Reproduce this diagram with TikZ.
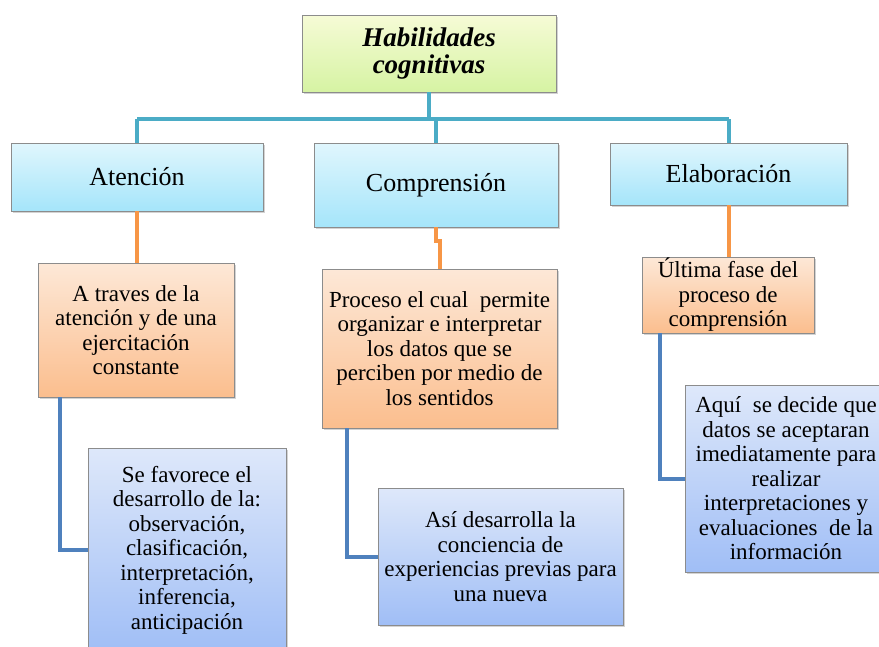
\documentclass[tikz,border=0pt]{standalone}
\usepackage{fontspec}
\setmainfont{Liberation Serif}
\usetikzlibrary{shadows}

\definecolor{tealline}{HTML}{4BACC6}
\definecolor{orangeline}{HTML}{F79646}
\definecolor{blueline}{HTML}{4F81BD}

\tikzset{
	box/.style={draw=black!45, line width=0.8pt, inner sep=0pt, align=center,
		drop shadow={shadow xshift=1.5pt, shadow yshift=-2pt, opacity=0.35}},
	rootbox/.style={box, top color={rgb,255:red,246;green,251;blue,214}, bottom color={rgb,255:red,214;green,243;blue,163},
		font=\fontsize{27}{27}\selectfont\bfseries\itshape},
	headbox/.style={box, top color={rgb,255:red,224;green,246;blue,253}, bottom color={rgb,255:red,165;green,229;blue,250},
		font=\fontsize{26}{28}\selectfont},
	notebox/.style={box, top color={rgb,255:red,253;green,232;blue,215}, bottom color={rgb,255:red,251;green,190;blue,142},
		font=\fontsize{23}{24.5}\selectfont},
	detailbox/.style={box, top color={rgb,255:red,222;green,232;blue,250}, bottom color={rgb,255:red,160;green,190;blue,246},
		font=\fontsize{23}{24.5}\selectfont},
	link/.style={line width=4pt},
	elbow/.style={to path={|- (\tikztotarget)}}
}

\begin{document}
\begin{tikzpicture}[x=1pt, y=-1pt]
	\useasboundingbox (0,0) rectangle (879,646);

	\node[rootbox, minimum width=254, minimum height=77] (root) at (429,53.5) {Habilidades\\cognitivas};

	\node[headbox, minimum width=252, minimum height=68] (aten) at (137,177)   {Atención};
	\node[headbox, minimum width=244, minimum height=84] (comp) at (436,185)   {Comprensión};
	\node[headbox, minimum width=237, minimum height=62] (elab) at (728.5,174) {Elaboración};

	\node[notebox, minimum width=196, minimum height=134] (ora1) at (136,330)   {A traves de la\\atención y de una\\ejercitación\\constante};
	\node[notebox, minimum width=235, minimum height=159] (ora2) at (439.5,348.5) {Proceso el cual~ permite\\organizar e interpretar\\los datos que se\\perciben por medio de\\los sentidos};
	\node[notebox, minimum width=172, minimum height=76] (ora3) at (728,295)  {Última fase del\\proceso de\\comprensión};

	\node[detailbox, minimum width=198, minimum height=204] (blu1) at (187,550)   {Se favorece el\\desarrollo de la:\\observación,\\clasificación,\\interpretación,\\inferencia,\\anticipación};
	\node[detailbox, minimum width=245, minimum height=137] (blu2) at (500.5,556.5) {Así desarrolla la\\conciencia de\\experiencias previas para\\una nueva};
	\node[detailbox, minimum width=202, minimum height=187] (blu3) at (786,478.5) {Aquí~ se decide que\\datos se aceptaran\\imediatamente para\\realizar\\interpretaciones y\\evaluaciones~ de la\\información};

	\coordinate (bus) at (429,119);

	\path [link, tealline] (root.south) edge (root.south |- bus);
	\path [link, tealline] (aten.north |- bus) edge (elab.north |- bus);
	\path [link, tealline] (aten.north |- bus) edge (aten.north);
	\path [link, tealline] (comp.north |- bus) edge (comp.north);
	\path [link, tealline] (elab.north |- bus) edge (elab.north);

	\path [link, orangeline] (aten.south) edge (aten.south |- ora1.north);
	\path [link, orangeline] (comp.south) edge[to path={-- ++(0,14) -| (\tikztotarget)}] (ora2.north);
	\path [link, orangeline] (elab.south) edge (elab.south |- ora3.north);

	\path [link, blueline] ([xshift=22pt]ora1.south west) edge[elbow] (blu1.west);
	\path [link, blueline] ([xshift=25pt]ora2.south west) edge[elbow] (blu2.west);
	\path [link, blueline] ([xshift=18pt]ora3.south west) edge[elbow] (blu3.west);
\end{tikzpicture}
\end{document}
